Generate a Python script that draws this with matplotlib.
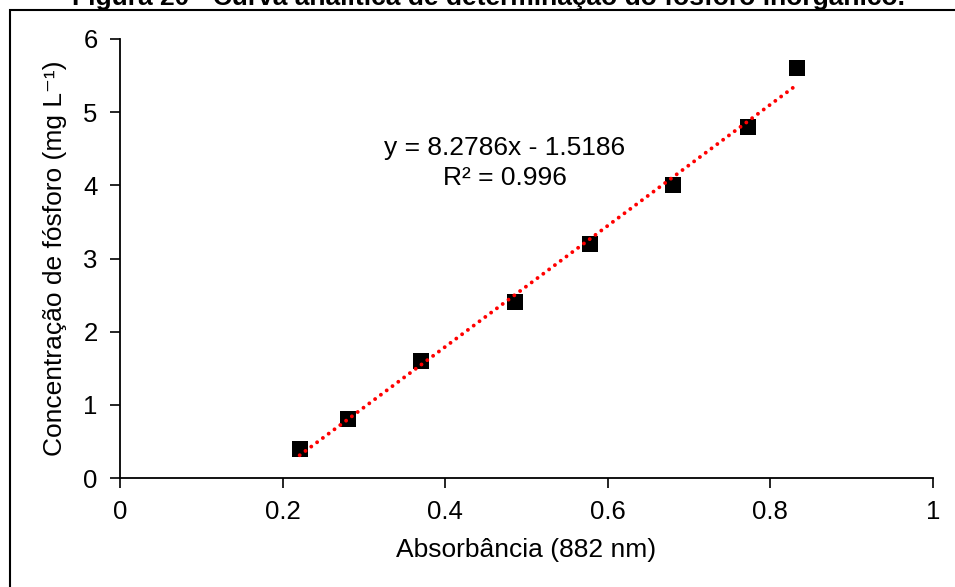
import matplotlib
matplotlib.use("Agg")
import matplotlib.pyplot as plt
from matplotlib.patches import Rectangle
import numpy as np

plt.rcParams['font.family'] = ['Liberation Sans', 'DejaVu Sans']

# Calibration standards: absorbance at 882 nm vs phosphorus concentration
absorbance = [0.221, 0.280, 0.370, 0.486, 0.578, 0.680, 0.773, 0.833]
concentration = [0.4, 0.8, 1.6, 2.4, 3.2, 4.0, 4.8, 5.6]

# Linear trendline coefficients and fit quality
slope = 8.2786
intercept = -1.5186
r_squared = 0.996

x_ticks = [0, 0.2, 0.4, 0.6, 0.8, 1]
x_tick_labels = ['0', '0.2', '0.4', '0.6', '0.8', '1']
y_ticks = [0, 1, 2, 3, 4, 5, 6]

title = "Figura 20 - Curva analítica de determinação do fósforo inorgânico."
x_label = "Absorbância (882 nm)"
y_label = "Concentração de fósforo (mg L⁻¹)"

W, H, DPI = 955, 587, 100
fig = plt.figure(figsize=(W / DPI, H / DPI), dpi=DPI)

# outer frame of the chart area (extends past the right and bottom edges)
fig.patches.append(Rectangle((9.5 / W, -0.1), 1.2, 1.1 - 9.7 / H,
                             transform=fig.transFigure, fill=False,
                             edgecolor='black', linewidth=1.5, zorder=0))

fig.text(488 / W, 1 - 5 / H, title, ha='center', va='baseline',
         fontsize=19, fontweight='bold')

ax = fig.add_axes([120 / W, (H - 478) / H, 813 / W, 439 / H])

# trendline from the first to the last standard
xs = np.array([min(absorbance), max(absorbance)])
ax.plot(xs, slope * xs + intercept, color='red', linewidth=2.8,
        linestyle=(0, (0.01, 1.85)), dash_capstyle='round', zorder=3)

ax.scatter(absorbance, concentration, marker='s', s=118, color='black',
           zorder=2, linewidths=0)

eq_text = f"y = {slope:.4f}x - {abs(intercept):.4f}\nR² = {r_squared:.3f}"
ax.text(0.4735, 4.31, eq_text, ha='center', va='center', fontsize=19,
        linespacing=1.3)

ax.set_xlim(0, 1)
ax.set_ylim(0, 6)
ax.set_xticks(x_ticks)
ax.set_xticklabels(x_tick_labels)
ax.set_yticks(y_ticks)
ax.tick_params(axis='both', direction='out', length=7, width=1.2,
               labelsize=18.5, colors='black')
ax.tick_params(axis='x', pad=9)
ax.tick_params(axis='y', pad=9)

for side in ('top', 'right'):
    ax.spines[side].set_visible(False)
for side in ('left', 'bottom'):
    ax.spines[side].set_linewidth(1.3)

ax.set_xlabel(x_label, fontsize=19, labelpad=10)
ax.set_ylabel(y_label, fontsize=19, labelpad=12)

fig.savefig("out.png", dpi=DPI)
